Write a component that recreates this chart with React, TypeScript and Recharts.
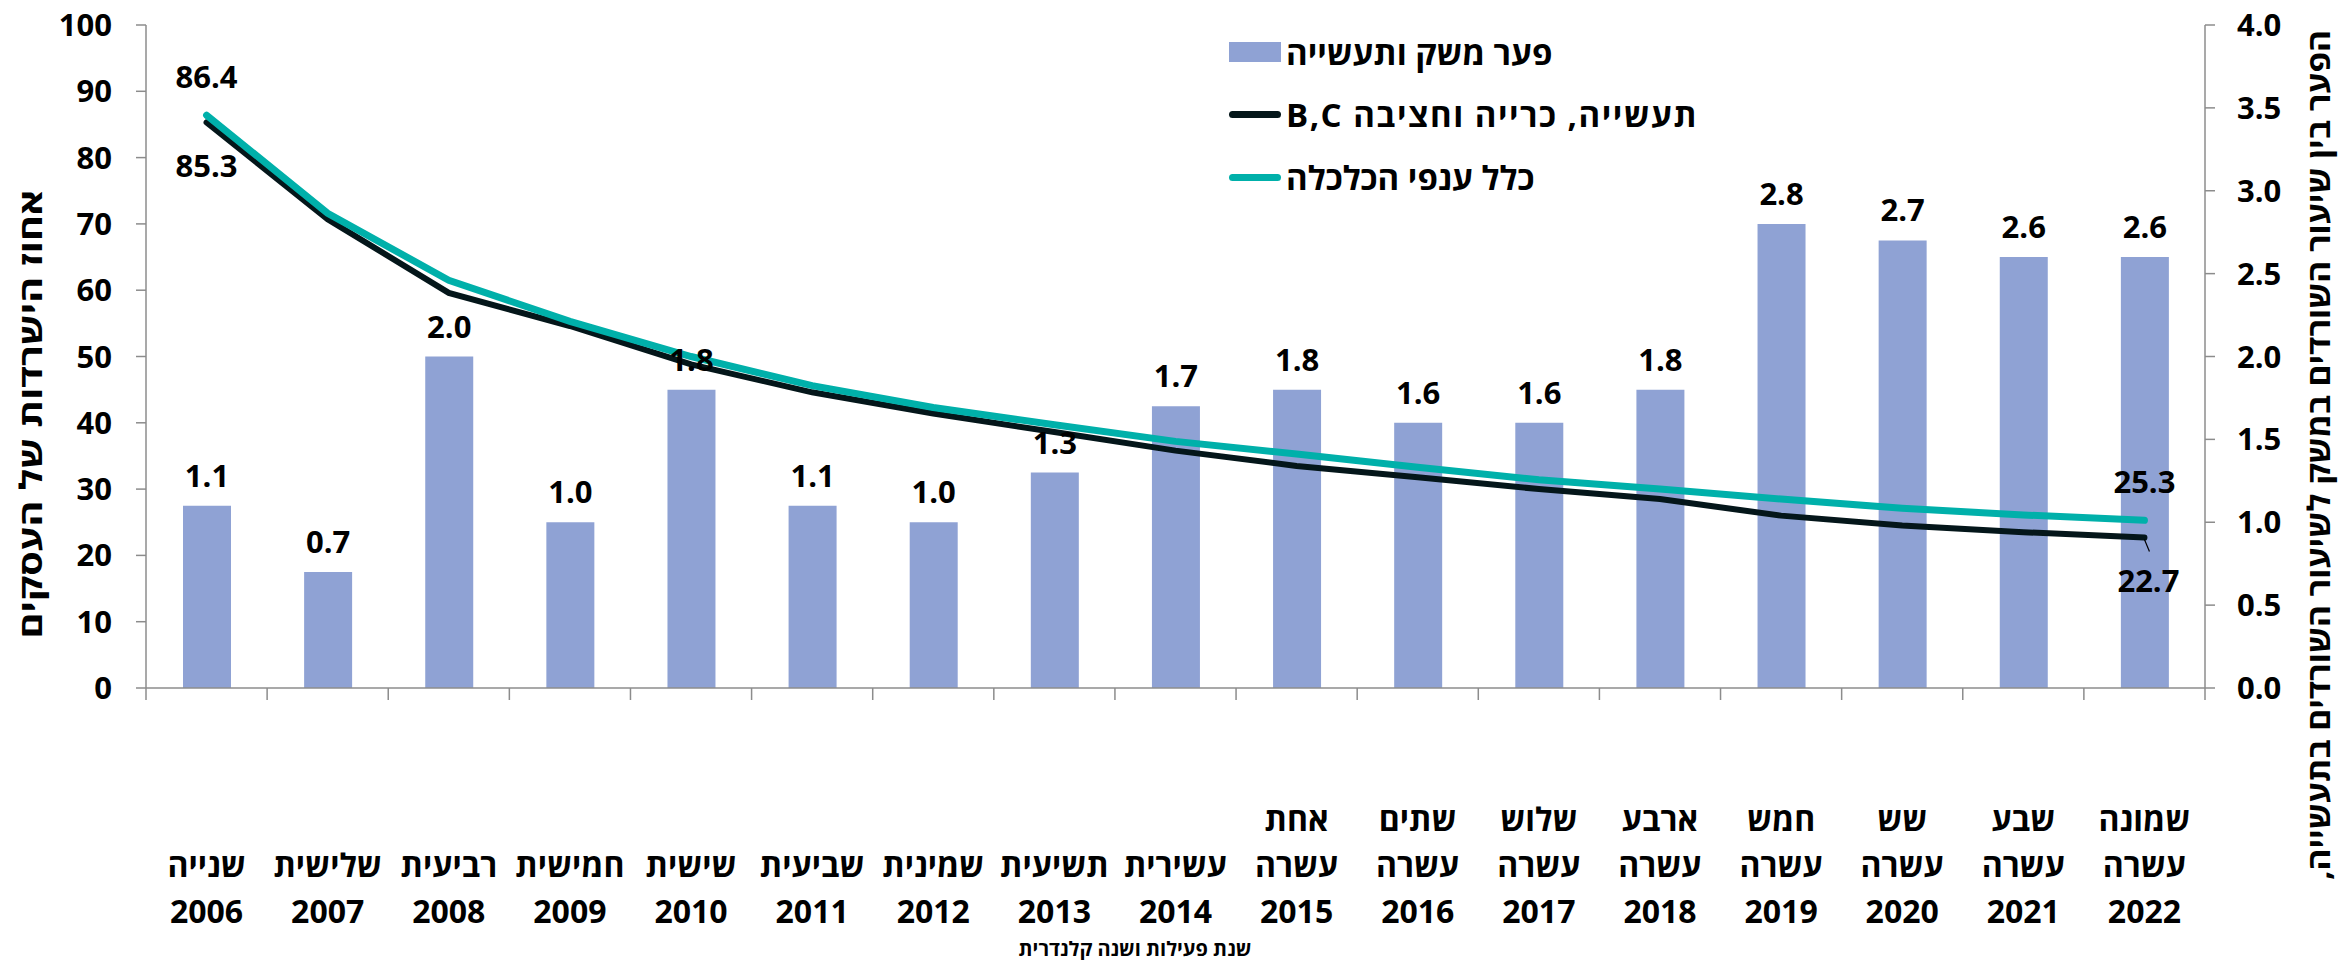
import { ComposedChart, Bar, Line, XAxis, YAxis, LabelList } from 'recharts';

const years = ['2006', '2007', '2008', '2009', '2010', '2011', '2012', '2013', '2014', '2015', '2016', '2017', '2018', '2019', '2020', '2021', '2022'];
const ordinals = [
  'שנייה', 'שלישית', 'רביעית', 'חמישית', 'שישית', 'שביעית', 'שמינית', 'תשיעית', 'עשירית',
  'אחת עשרה', 'שתים עשרה', 'שלוש עשרה', 'ארבע עשרה', 'חמש עשרה', 'שש עשרה', 'שבע עשרה', 'שמונה עשרה',
];
// gap between survival rates (right axis)
const gapValues = [1.1, 0.7, 2.0, 1.0, 1.8, 1.1, 1.0, 1.3, 1.7, 1.8, 1.6, 1.6, 1.8, 2.8, 2.7, 2.6, 2.6];
// survival rate, industry B,C (left axis)
const industryValues = [85.3, 70.7, 59.6, 54.6, 48.8, 44.6, 41.4, 38.6, 35.8, 33.5, 31.8, 30.0, 28.5, 26.0, 24.5, 23.5, 22.7];
// survival rate, whole economy (left axis)
const economyValues = [86.4, 71.6, 61.5, 55.3, 50.0, 45.6, 42.3, 39.7, 37.2, 35.3, 33.3, 31.4, 30.0, 28.5, 27.1, 26.1, 25.3];
const leftTicks = [0, 10, 20, 30, 40, 50, 60, 70, 80, 90, 100];
const rightTicks = [0, 0.5, 1, 1.5, 2, 2.5, 3, 3.5, 4];

const legendItems = [
  { label: 'פער משק ותעשייה', kind: 'bar' },
  { label: 'תעשייה, כרייה וחציבה B,C', kind: 'line' },
  { label: 'כלל ענפי הכלכלה', kind: 'line' },
];

const data = years.map((year, i) => ({
  year,
  gap: gapValues[i],
  industry: industryValues[i],
  economy: economyValues[i],
}));

const W = 2341;
const H = 960;
const LEFT_W = 146;
const RIGHT_W = 136;
const TOP = 25;
const X_H = 272;
const AXIS_Y = H - X_H;
const BAND = (W - LEFT_W - RIGHT_W) / years.length;

const FONT = "'Open Sans', 'Noto Sans', 'DejaVu Sans', sans-serif";
const AXIS_GRAY = '#8c8c8c';
const BAR_COLOR = '#8fa2d4';
const BLACK_LINE = '#04161a';
const TEAL_LINE = '#00b0aa';
const legendColors = [BAR_COLOR, BLACK_LINE, TEAL_LINE];

const XTick = (props: any) => {
  const { x, index } = props;
  const words = ordinals[index].split(' ');
  const rows = words.length === 2 ? [words[0], words[1], years[index]] : ['', words[0], years[index]];
  const rowY = [AXIS_Y + 130, AXIS_Y + 176, AXIS_Y + 222];
  const left = x - BAND / 2;
  return (
    <g>
      <line x1={left} x2={left} y1={AXIS_Y} y2={AXIS_Y + 12} stroke={AXIS_GRAY} strokeWidth={1.5} />
      {index === years.length - 1 && (
        <line x1={left + BAND} x2={left + BAND} y1={AXIS_Y} y2={AXIS_Y + 12} stroke={AXIS_GRAY} strokeWidth={1.5} />
      )}
      {rows.map((r, i) =>
        r ? (
          <text key={i} x={x} y={rowY[i]} textAnchor="middle" dominantBaseline="central" fontSize={32} fontWeight={700} fill="#000" fontFamily={FONT}>
            {r}
          </text>
        ) : null
      )}
    </g>
  );
};

const BarLabel = (props: any) => {
  const { x, y, width, value } = props;
  return (
    <text x={x + width / 2} y={y - 31} textAnchor="middle" dominantBaseline="central" fontSize={31} fontWeight={700} fill="#000" fontFamily={FONT}>
      {Number(value).toFixed(1)}
    </text>
  );
};

const EconomyLabel = (props: any) => {
  const { x, y, index, value } = props;
  if (index !== 0 && index !== years.length - 1) return <g />;
  return (
    <text x={x} y={y - 39} textAnchor="middle" dominantBaseline="central" fontSize={31} fontWeight={700} fill="#000" fontFamily={FONT}>
      {Number(value).toFixed(1)}
    </text>
  );
};

const IndustryLabel = (props: any) => {
  const { x, y, index, value } = props;
  if (index !== 0 && index !== years.length - 1) return <g />;
  const last = index === years.length - 1;
  return (
    <g>
      {last && <line x1={x} y1={y + 2} x2={x + 5} y2={y + 14} stroke="#000" strokeWidth={1.2} />}
      <text x={x + (last ? 4 : 0)} y={y + 43} textAnchor="middle" dominantBaseline="central" fontSize={31} fontWeight={700} fill="#000" fontFamily={FONT}>
        {Number(value).toFixed(1)}
      </text>
    </g>
  );
};

const LegendBox = () => (
  <div style={{ position: 'absolute', left: 1229, top: 21, fontFamily: FONT }}>
    {legendItems.map((r, i) => (
      <div key={r.label} style={{ display: 'flex', alignItems: 'center', height: 62.5, direction: 'ltr' }}>
        {r.kind === 'bar' ? (
          <div style={{ width: 52, height: 20, background: legendColors[i] }} />
        ) : (
          <div style={{ width: 52, height: 7, background: legendColors[i], borderRadius: 4 }} />
        )}
        <span
          dir="rtl"
          style={{ marginLeft: 5, fontSize: 33, fontWeight: 700, color: '#000', whiteSpace: 'nowrap', letterSpacing: i === 1 ? 1.5 : 0 }}
        >
          {r.label}
        </span>
      </div>
    ))}
  </div>
);

const Titles = () => (
  <svg width={W} height={H} style={{ position: 'absolute', left: 0, top: 0, pointerEvents: 'none' }}>
    <text x={30} y={414} transform="rotate(-90 30 414)" textAnchor="middle" dominantBaseline="central" fontSize={31} fontWeight={700} fill="#000" fontFamily={FONT} textLength={449} lengthAdjust="spacingAndGlyphs">
      אחוז הישרדות של העסקים
    </text>
    <text x={2318} y={455} transform="rotate(-90 2318 455)" textAnchor="middle" dominantBaseline="central" fontSize={31} fontWeight={700} fill="#000" fontFamily={FONT} textLength={850} lengthAdjust="spacingAndGlyphs" direction="rtl">
      {'\u200Fהפער בין שיעור השורדים במשק לשיעור השורדים בתעשייה,\u200F'}
    </text>
    <text x={1135} y={948} textAnchor="middle" dominantBaseline="central" fontSize={20} fontWeight={700} fill="#000" fontFamily={FONT}>
      שנת פעילות ושנה קלנדרית
    </text>
  </svg>
);

const tickStyle = { fontSize: 31, fontWeight: 700, fill: '#000', fontFamily: FONT };

export default function App() {
  return (
    <div style={{ position: 'absolute', left: 0, top: 0, width: W, height: H, background: '#fff' }}>
      <ComposedChart width={W} height={H} data={data} margin={{ top: TOP, right: 0, bottom: 0, left: 0 }}>
        <XAxis
          dataKey="year"
          height={X_H}
          tick={<XTick />}
          tickLine={false}
          axisLine={{ stroke: AXIS_GRAY, strokeWidth: 1.5 }}
          interval={0}
        />
        <YAxis
          yAxisId="left"
          orientation="left"
          width={LEFT_W}
          domain={[0, 100]}
          ticks={leftTicks}
          tick={tickStyle}
          tickSize={10}
          tickMargin={24}
          tickLine={{ stroke: AXIS_GRAY, strokeWidth: 1.5 }}
          axisLine={{ stroke: AXIS_GRAY, strokeWidth: 1.5 }}
          interval={0}
        />
        <YAxis
          yAxisId="right"
          orientation="right"
          width={RIGHT_W}
          domain={[0, 4]}
          ticks={rightTicks}
          tickFormatter={(v: number) => v.toFixed(1)}
          tick={tickStyle}
          tickSize={10}
          tickMargin={22}
          tickLine={{ stroke: AXIS_GRAY, strokeWidth: 1.5 }}
          axisLine={{ stroke: AXIS_GRAY, strokeWidth: 1.5 }}
          interval={0}
        />
        <Bar yAxisId="right" dataKey="gap" name="פער משק ותעשייה" fill={BAR_COLOR} barSize={48} isAnimationActive={false}>
          <LabelList dataKey="gap" content={<BarLabel />} />
        </Bar>
        <Line
          yAxisId="left"
          dataKey="industry"
          name="תעשייה, כרייה וחציבה B,C"
          stroke={BLACK_LINE}
          strokeWidth={6}
          strokeLinecap="round"
          dot={false}
          activeDot={false}
          isAnimationActive={false}
          label={<IndustryLabel />}
        />
        <Line
          yAxisId="left"
          dataKey="economy"
          name="כלל ענפי הכלכלה"
          stroke={TEAL_LINE}
          strokeWidth={7}
          strokeLinecap="round"
          dot={false}
          activeDot={false}
          isAnimationActive={false}
          label={<EconomyLabel />}
        />
      </ComposedChart>
      <LegendBox />
      <Titles />
    </div>
  );
}
